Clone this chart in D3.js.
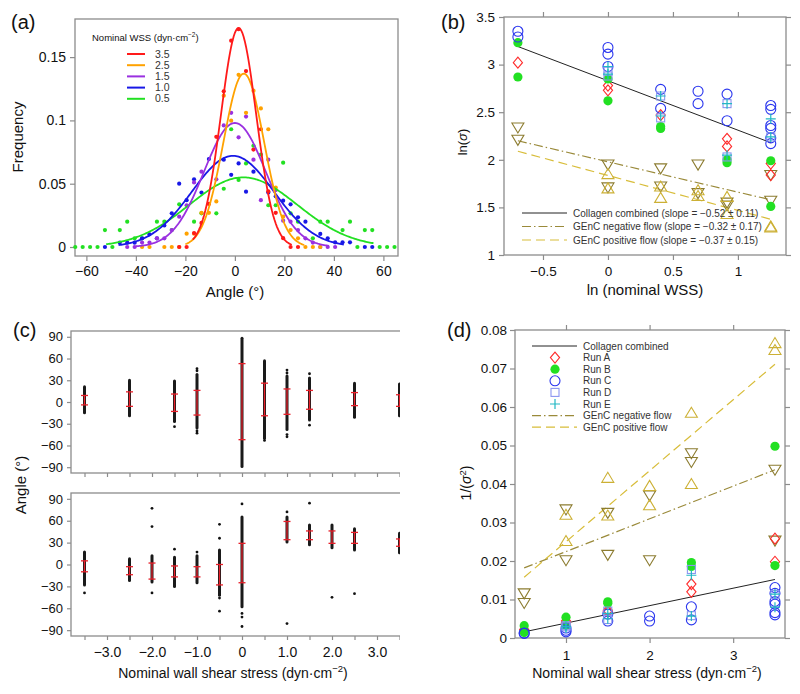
<!DOCTYPE html>
<html>
<head>
<meta charset="utf-8">
<script src="https://cdn.jsdelivr.net/npm/d3@7"></script>
<style>
body { margin: 0; background: #fff; }
svg { font-family: "Liberation Sans", Arial, Helvetica, sans-serif; }
</style>
</head>
<body>
<svg id="fig" width="800" height="694"></svg>
<script>
// ---------- panel (a): angle histograms, [angle bin centre (deg), frequency]
const wssA = ["3.5", "2.5", "1.5", "1.0", "0.5"]
const colA = ["#ff1a1a", "#ffa200", "#9a30e0", "#1818e6", "#22e022"]
const ptsRed = [[-22.5,0],[-19.5,0],[-16.5,0.011],[-13.5,0.019],[-10.5,0.034],[-7.5,0.087],[-4.5,0.123],[-1.5,0.163],[1.5,0.172],[4.5,0.139],[7.5,0.077],[10.5,0.093],[13.5,0.044],[16.5,0.027],[19.5,0.007],[22.5,0],[25.5,0]]
const ptsOrange = [[-37.5,0],[-34.5,0],[-28.5,0],[-25.5,0],[-22.5,0],[-19.5,0.0105],[-16.5,0.0105],[-13.5,0.027],[-10.5,0.027],[-7.5,0.036],[-4.5,0.1195],[-1.5,0.0998],[1.5,0.136],[4.5,0.106],[7.5,0.1235],[10.5,0.1095],[13.5,0.093],[16.5,0.047],[19.5,0.024],[22.5,0.0134],[25.5,0.0069],[28.5,0],[31.5,0],[34.5,0]]
const ptsPurple = [[-43.5,0],[-40.5,0],[-37.5,0.0035],[-34.5,0.0035],[-31.5,0.0069],[-28.5,0.0069],[-25.5,0.0134],[-22.5,0.024],[-19.5,0.033],[-16.5,0.051],[-13.5,0.0595],[-7.5,0.0535],[-4.5,0.096],[-1.5,0.106],[1.5,0.0866],[4.5,0.103],[7.5,0.069],[10.5,0.037],[13.5,0.069],[16.5,0.045],[19.5,0.0208],[22.5,0.020],[25.5,0.0134],[28.5,0.0069],[31.5,0.0035],[34.5,0],[37.5,0],[40.5,0]]
const ptsBlue = [[-52.5,0],[-46.5,0.0034],[-43.5,0.0034],[-40.5,0.0034],[-37.5,0.0069],[-34.5,0.0100],[-31.5,0.0069],[-28.5,0.017],[-25.5,0.0266],[-22.5,0.050],[-19.5,0.037],[-16.5,0.0535],[-13.5,0.043],[-10.5,0.0695],[-4.5,0.069],[-1.5,0.057],[1.5,0.066],[4.5,0.0437],[7.5,0.0595],[13.5,0.043],[16.5,0.040],[19.5,0.0366],[22.5,0.0337],[25.5,0.0235],[28.5,0.020],[34.5,0.0103],[37.5,0.0069],[40.5,0.0037],[43.5,0.0037],[46.5,0.0037],[52.5,0],[55.5,0]]
const ptsGreen = [[-64.5,0],[-61.5,0],[-58.5,0],[-55.5,0],[-52.5,0.0134],[-49.5,0],[-46.5,0.0134],[-43.5,0.020],[-40.5,0.0069],[-37.5,0.0069],[-31.5,0.020],[-28.5,0.020],[-25.5,0.0134],[-22.5,0.0337],[-16.5,0.020],[-13.5,0.0266],[-7.5,0.0266],[-4.5,0.046],[-1.5,0.093],[1.5,0.053],[4.5,0.066],[7.5,0.080],[10.5,0.073],[13.5,0.033],[16.5,0.033],[19.5,0.0666],[22.5,0.0266],[25.5,0.020],[31.5,0.0069],[34.5,0.020],[37.5,0.020],[43.5,0.0134],[46.5,0.020],[49.5,0],[52.5,0.0134],[55.5,0.0134],[58.5,0],[61.5,0],[64.5,0]]
// gaussian fits (same order as wssA)
const fitMu = [1.5, 3.6, 0, -0.8, 3.4]
const fitSd = [7.1, 8.2, 12.5, 16.6, 21.8]
const fitPeak = [0.173, 0.137, 0.098, 0.072, 0.055]
const fitFrom = [-17, -20, -40, -47, -52]
const fitTo = [23, 28, 38, 44, 56]
const ticksAx = [-60, -40, -20, 0, 20, 40, 60]
const ticksAy = [0, 0.05, 0.1, 0.15]
const labelsAy = ["0", "0.05", "0.1", "0.15"]

// ---------- panel (b): [nominal WSS, ln(sigma)]
const bRunA = [[0.5,3.02],[1,2.78],[1,2.73],[1.5,2.47],[2.5,2.22],[2.5,2.14],[3.5,1.96],[3.5,1.84]]
const bRunB = [[0.5,3.23],[0.5,2.87],[1,2.85],[1,2.62],[1.5,2.35],[1.5,2.33],[2.5,2.0],[2.5,1.97],[3.5,1.99],[3.5,1.51]]
const bRunC = [[0.5,3.35],[0.5,3.29],[1,3.18],[1,3.11],[1,2.98],[1.5,2.74],[1.5,2.54],[2,2.72],[2,2.59],[2.5,2.69],[2.5,2.41],[3.5,2.57],[3.5,2.53],[3.5,2.36],[3.5,2.33],[3.5,2.23],[3.5,2.17]]
const bRunD = [[1,2.93],[1,2.88],[1.5,2.67],[1.5,2.44],[2.5,2.59],[2.5,2.03],[3.5,2.24]]
const bRunE = [[1,2.98],[1,2.90],[1.5,2.67],[1.5,2.46],[2.5,2.59],[2.5,2.05],[3.5,2.43],[3.5,2.24]]
const bNeg = [[0.5,2.34],[0.5,2.21],[1,1.95],[1,1.71],[1.5,1.91],[1.5,1.72],[2,1.95],[2,1.65],[2.5,1.55],[2.5,1.52],[3.5,1.84],[3.5,1.57]]
const bPos = [[1,1.85],[1,1.70],[1.5,1.72],[1.5,1.60],[2,1.68],[2,1.62],[2.5,1.61],[2.5,1.43],[3.5,1.30],[3.5,1.29]]
const bFitColl = [[0.5,3.19],[3.5,2.18]]
const bFitNeg = [[0.5,2.20],[3.5,1.58]]
const bFitPos = [[0.5,2.09],[3.5,1.375]]
const ticksBx = [-0.5, 0, 0.5, 1]
const labelsBx = ["\u22120.5", "0", "0.5", "1"]
const ticksBy = [1, 1.5, 2, 2.5, 3, 3.5]
const labelsBy = ["1", "1.5", "2", "2.5", "3", "3.5"]
const legendB = ["Collagen combined (slope = \u22120.52 \u00b1 0.11)", "GEnC negative flow (slope = \u22120.32 \u00b1 0.17)", "GEnC positive flow (slope = \u22120.37 \u00b1 0.15)"]

// ---------- panel (c): per column [WSS, dense low, dense high, bar low, bar high, outliers]
const cTop = [
  [-3.5, -15, 21, -4, 9, []],
  [-2.5, -19, 30, -6, 14, []],
  [-1.5, -27, 29, -13, 11, [-34]],
  [-1, -36, 38, -18, 16, [46, 43, -40, -43]],
  [0, -89, 88, -52, 53, []],
  [0.5, -50, 57, -19, 26, [-53]],
  [1, -38, 36, -17, 18, [44, 40, -45, -48]],
  [1.5, -25, 33, -10, 16, [39, -32]],
  [2.5, -21, 26, -5, 13, []],
  [3.5, -19, 25, -6, 10, []]
]
const cBottom = [
  [-3.5, -28, 17, -10, 5, [-39]],
  [-2.5, -22, 8, -14, -3, []],
  [-2, -24, 12, -20, 2, [77, 52, -39]],
  [-1.5, -30, 10, -17, -2, [21]],
  [-1, -25, 12, -17, -3, [17]],
  [-0.5, -42, 20, -28, 0, [55, 36, -46, -64]],
  [0, -58, 65, -25, 29, [83, -67, -72, -85]],
  [1, 31, 65, 34, 59, [72, -81]],
  [1.5, 27, 54, 34, 46, [84]],
  [2, 23, 54, 29, 46, [-45]],
  [2.5, 20, 49, 29, 44, [-40]],
  [3.5, 16, 43, 25, 35, []]
]
const ticksCx = [-3.5, -3, -2.5, -2, -1.5, -1, -0.5, 0, 0.5, 1, 1.5, 2, 2.5, 3, 3.5]
const labelsCx = {"-3": "\u22123.0", "-2": "\u22122.0", "-1": "\u22121.0", "0": "0", "1": "1.0", "2": "2.0", "3": "3.0"}
const ticksCy = [-90, -60, -30, 0, 30, 60, 90]

// ---------- panel (d): [nominal WSS, 1/sigma^2]
const dRunA = [[0.5,0.0022],[1,0.0040],[1,0.0044],[1.5,0.0072],[1.5,0.0068],[2.5,0.0140],[2.5,0.0120],[3.5,0.0258],[3.5,0.0198]]
const dRunB = [[0.5,0.0032],[0.5,0.0014],[1,0.0054],[1,0.0033],[1.5,0.0094],[1.5,0.0090],[2.5,0.0196],[2.5,0.0186],[3.5,0.0498],[3.5,0.0188]]
const dRunC = [[0.5,0.0013],[0.5,0.0012],[1,0.0026],[1,0.0020],[1,0.0016],[1.5,0.0062],[1.5,0.0044],[2,0.0057],[2,0.0044],[2.5,0.0081],[2.5,0.0047],[3.5,0.0131],[3.5,0.0116],[3.5,0.0095],[3.5,0.0088],[3.5,0.0066],[3.5,0.0060]]
const dRunD = [[1,0.0029],[1,0.0032],[1.5,0.0048],[1.5,0.0070],[2.5,0.0178],[2.5,0.0058],[3.5,0.0113]]
const dRunE = [[1,0.0026],[1,0.0030],[1.5,0.0050],[1.5,0.0064],[2.5,0.0163],[2.5,0.0057],[3.5,0.0080],[3.5,0.0114]]
const dNeg = [[0.5,0.0116],[0.5,0.0091],[1,0.0334],[1,0.0202],[1.5,0.0325],[1.5,0.0216],[2,0.0370],[2,0.0202],[2.5,0.0480],[2.5,0.0457],[3.5,0.0437],[3.5,0.0253]]
const dPos = [[1,0.0320],[1,0.0252],[1.5,0.0416],[1.5,0.0318],[2,0.0395],[2,0.0345],[2.5,0.0585],[2.5,0.0400],[3.5,0.0766],[3.5,0.0748]]
const dFitColl = [[0.5,0.0016],[3.5,0.0152]]
const dFitNeg = [[0.5,0.0182],[3.5,0.0437]]
const dFitPos = [[0.5,0.0158],[3.5,0.0711]]
const ticksDx = [1, 2, 3]
const ticksDy = [0, 0.01, 0.02, 0.03, 0.04, 0.05, 0.06, 0.07, 0.08]
const labelsDy = ["0", "0.01", "0.02", "0.03", "0.04", "0.05", "0.06", "0.07", "0.08"]
const legendD = ["Collagen combined", "Run A", "Run B", "Run C", "Run D", "Run E", "GEnC negative flow", "GEnC positive flow"]

// ---------- drawing
const svg = d3.select("#fig")
const FONT = "'Liberation Sans', Arial, Helvetica, sans-serif"
const grey = "#8c8c8c"
const cRed = "#ff2a2a", cGreen = "#22e022", cBlue = "#2a36ee", cSq = "#8a96f0", cPlus = "#22b8c4"
const cNeg = "#8c7c30", cPos = "#ccb034"
const dashDot = "9,3,1.5,3", dashed = "9,5"

function frame(g, x0, y0, x1, y1) {
  g.append("rect").attr("x", x0).attr("y", y0).attr("width", x1 - x0).attr("height", y1 - y0)
    .attr("fill", "none").attr("stroke", grey).attr("stroke-width", 1.3)
}
function styleAxis(g, fs) {
  g.select(".domain").remove()
  g.selectAll(".tick line").attr("stroke", grey).attr("stroke-width", 1.2)
  g.selectAll(".tick text").attr("font-size", fs).attr("fill", "#111").attr("font-family", FONT)
  g.attr("font-family", FONT)
}
function addText(g, x, y, txt, fs, anchor, rot) {
  const t = g.append("text").attr("x", x).attr("y", y).attr("font-size", fs)
    .attr("text-anchor", anchor || "start").attr("fill", "#111").text(txt)
  if (rot) t.attr("transform", "rotate(-90," + x + "," + y + ")")
  return t
}
function withSup(t, before, sup, after, fs) {
  t.text(null)
  t.append("tspan").text(before)
  t.append("tspan").attr("dy", -fs * 0.42).attr("font-size", fs * 0.68).text(sup)
  t.append("tspan").attr("dy", fs * 0.42).text(after)
}
// marker shapes used in (b) and (d)
function mark(g, type, x, y) {
  if (type === "A") g.append("path").attr("d", `M${x},${y-5.5}L${x+4.6},${y}L${x},${y+5.5}L${x-4.6},${y}Z`).attr("fill", "none").attr("stroke", cRed).attr("stroke-width", 1.1)
  if (type === "B") g.append("circle").attr("cx", x).attr("cy", y).attr("r", 4.6).attr("fill", cGreen)
  if (type === "C") g.append("circle").attr("cx", x).attr("cy", y).attr("r", 5).attr("fill", "none").attr("stroke", cBlue).attr("stroke-width", 1.1)
  if (type === "D") g.append("rect").attr("x", x - 4).attr("y", y - 4).attr("width", 8).attr("height", 8).attr("fill", "none").attr("stroke", cSq).attr("stroke-width", 1.1)
  if (type === "E") g.append("path").attr("d", `M${x-5},${y}H${x+5}M${x},${y-5}V${y+5}`).attr("stroke", cPlus).attr("stroke-width", 1.2)
  if (type === "N") g.append("path").attr("d", `M${x-6},${y-4.5}L${x+6},${y-4.5}L${x},${y+5.5}Z`).attr("fill", "none").attr("stroke", cNeg).attr("stroke-width", 1.1)
  if (type === "P") g.append("path").attr("d", `M${x-6},${y+4.5}L${x+6},${y+4.5}L${x},${y-5.5}Z`).attr("fill", "none").attr("stroke", cPos).attr("stroke-width", 1.1)
}

// ===== (a)
const gA = svg.append("g")
const xA = d3.scaleLinear().domain([-64.6, 65.9]).range([75, 398])
const yA = d3.scaleLinear().domain([-0.0071, 0.1801]).range([256, 19])
frame(gA, 75, 19, 398, 256)
gA.append("g").attr("transform", "translate(0,256)")
  .call(d3.axisBottom(xA).tickValues(ticksAx).tickSize(5).tickPadding(5).tickFormat(d3.format("d")))
  .call(g => styleAxis(g, 14))
gA.append("g").attr("transform", "translate(75,0)")
  .call(d3.axisLeft(yA).tickValues(ticksAy).tickSize(5).tickPadding(4).tickFormat((d, i) => labelsAy[i]))
  .call(g => styleAxis(g, 14))
const seriesA = [ptsRed, ptsOrange, ptsPurple, ptsBlue, ptsGreen]
for (let i = seriesA.length - 1; i >= 0; i--) {
  gA.append("g").selectAll("circle").data(seriesA[i]).join("circle")
    .attr("cx", d => xA(d[0])).attr("cy", d => yA(d[1])).attr("r", 2.1).attr("fill", colA[i])
}
for (let i = seriesA.length - 1; i >= 0; i--) {
  const xs = d3.range(fitFrom[i], fitTo[i] + 0.01, 0.5)
  const line = d3.line().x(a => xA(a)).y(a => yA(fitPeak[i] * Math.exp(-Math.pow(a - fitMu[i], 2) / (2 * fitSd[i] * fitSd[i]))))
  gA.append("path").attr("d", line(xs)).attr("fill", "none").attr("stroke", colA[i]).attr("stroke-width", 1.8)
}
withSup(addText(gA, 92, 41, "", 9.5), "Nominal WSS (dyn\u00b7cm", "\u22122", ")", 9.5)
wssA.forEach((w, i) => {
  const y = 54 + i * 11.2
  gA.append("line").attr("x1", 127).attr("x2", 145).attr("y1", y).attr("y2", y).attr("stroke", colA[i]).attr("stroke-width", 2)
  addText(gA, 155, y + 3.6, w, 10.5).attr("fill", "#333")
})
addText(gA, 235, 297, "Angle (\u00b0)", 15, "middle")
addText(gA, 23, 137, "Frequency", 15, "middle", true)
addText(gA, 11, 29, "(a)", 20)

// ===== (b)
const gB = svg.append("g")
const xB = d3.scaleLinear().domain([-0.8, 1.37]).range([504, 786])
const yB = d3.scaleLinear().domain([1, 3.5]).range([255, 17])
frame(gB, 504, 17, 786, 255)
gB.append("g").attr("transform", "translate(0,255)")
  .call(d3.axisBottom(xB).tickValues(ticksBx).tickSize(5).tickPadding(6).tickFormat((d, i) => labelsBx[i]))
  .call(g => styleAxis(g, 13.5))
gB.append("g").attr("transform", "translate(0,17)")
  .call(d3.axisTop(xB).tickValues(ticksBx).tickSize(5).tickFormat(""))
  .call(g => styleAxis(g, 13.5))
gB.append("g").attr("transform", "translate(504,0)")
  .call(d3.axisLeft(yB).tickValues(ticksBy).tickSize(5).tickPadding(4).tickFormat((d, i) => labelsBy[i]))
  .call(g => styleAxis(g, 13.5))
gB.append("g").attr("transform", "translate(786,0)")
  .call(d3.axisRight(yB).tickValues(ticksBy).tickSize(5).tickFormat(""))
  .call(g => styleAxis(g, 13.5))
const lnB = d => xB(Math.log(d[0]))
const lineB = d3.line().x(lnB).y(d => yB(d[1]))
gB.append("path").attr("d", lineB(bFitColl)).attr("stroke", "#222").attr("stroke-width", 1).attr("fill", "none")
gB.append("path").attr("d", lineB(bFitNeg)).attr("stroke", "#9a8a3a").attr("stroke-width", 1.2).attr("stroke-dasharray", dashDot).attr("fill", "none")
gB.append("path").attr("d", lineB(bFitPos)).attr("stroke", "#d8bd3a").attr("stroke-width", 1.2).attr("stroke-dasharray", dashed).attr("fill", "none")
const setsB = [[bNeg, "N"], [bPos, "P"], [bRunA, "A"], [bRunB, "B"], [bRunC, "C"], [bRunD, "D"], [bRunE, "E"]]
setsB.forEach(([pts, t]) => pts.forEach(d => mark(gB, t, lnB(d), yB(d[1]))))
const legStyleB = [["#222", null, 1], ["#9a8a3a", dashDot, 1.2], ["#d8bd3a", dashed, 1.2]]
legendB.forEach((txt, i) => {
  const y = 213 + i * 13.5
  gB.append("line").attr("x1", 522).attr("x2", 567).attr("y1", y).attr("y2", y)
    .attr("stroke", legStyleB[i][0]).attr("stroke-width", legStyleB[i][2]).attr("stroke-dasharray", legStyleB[i][1])
  addText(gB, 573, y + 3.5, txt, 10).attr("fill", "#333")
})
addText(gB, 645, 295, "ln (nominal WSS)", 15, "middle")
const lbB = addText(gB, 467, 142, "", 13, "middle", true)
lbB.append("tspan").text("ln(")
lbB.append("tspan").attr("font-style", "italic").text("\u03c3")
lbB.append("tspan").text(")")
addText(gB, 441, 29, "(b)", 20)

// ===== (c)
svg.append("clipPath").attr("id", "clipC").append("rect").attr("x", 0).attr("y", 300).attr("width", 400).attr("height", 394)
const gC = svg.append("g").attr("clip-path", "url(#clipC)")
const xC = d3.scaleLinear().domain([-3.8, 3.8]).range([71, 413])
const subC = [[cTop, 331, 473, false], [cBottom, 493, 636, true]]
subC.forEach(([cols, top, bot, labelled]) => {
  const yC = d3.scaleLinear().domain([-98, 98]).range([bot, top])
  frame(gC, 71, top, 413, bot)
  gC.append("g").attr("transform", "translate(71,0)")
    .call(d3.axisLeft(yC).tickValues(ticksCy).tickSize(4).tickPadding(4).tickFormat(d3.format("d")))
    .call(g => styleAxis(g, 13))
  gC.append("g").attr("transform", "translate(0," + bot + ")")
    .call(d3.axisBottom(xC).tickValues(ticksCx).tickSize(4).tickPadding(7)
      .tickFormat(d => labelled && labelsCx[String(d)] !== undefined ? labelsCx[String(d)] : ""))
    .call(g => styleAxis(g, 14))
  const cg = gC.append("g")
  cols.forEach(c => {
    const x = xC(c[0])
    cg.append("line").attr("x1", x).attr("x2", x).attr("y1", yC(c[1])).attr("y2", yC(c[2]))
      .attr("stroke", "#1a1a1a").attr("stroke-width", 3).attr("stroke-linecap", "round")
    c[5].forEach(o => cg.append("circle").attr("cx", x).attr("cy", yC(o)).attr("r", 1.4).attr("fill", "#111"))
    cg.append("line").attr("x1", x).attr("x2", x).attr("y1", yC(c[3])).attr("y2", yC(c[4]))
      .attr("stroke", "#e8202a").attr("stroke-width", 1.3)
    ;[c[3], c[4]].forEach(v => cg.append("line").attr("x1", x - 3.5).attr("x2", x + 3.5).attr("y1", yC(v)).attr("y2", yC(v))
      .attr("stroke", "#e8202a").attr("stroke-width", 1.3))
  })
})
withSup(addText(svg, 233, 678, "", 14, "middle"), "Nominal wall shear stress (dyn\u00b7cm", "\u22122", ")", 14)
addText(svg, 26, 485, "Angle (\u00b0)", 15, "middle", true)
addText(svg, 13, 337, "(c)", 20)

// ===== (d)
const gD = svg.append("g")
const xD = d3.scaleLinear().domain([0.39, 3.62]).range([515, 785])
const yD = d3.scaleLinear().domain([0, 0.08]).range([638, 330])
frame(gD, 515, 330, 785, 638)
gD.append("g").attr("transform", "translate(0,638)")
  .call(d3.axisBottom(xD).tickValues(ticksDx).tickSize(5).tickPadding(7).tickFormat(d3.format("d")))
  .call(g => styleAxis(g, 13.5))
gD.append("g").attr("transform", "translate(0,330)")
  .call(d3.axisTop(xD).tickValues(ticksDx).tickSize(5).tickFormat(""))
  .call(g => styleAxis(g, 13.5))
gD.append("g").attr("transform", "translate(515,0)")
  .call(d3.axisLeft(yD).tickValues(ticksDy).tickSize(5).tickPadding(3).tickFormat((d, i) => labelsDy[i]))
  .call(g => styleAxis(g, 13.5))
gD.append("g").attr("transform", "translate(785,0)")
  .call(d3.axisRight(yD).tickValues(ticksDy).tickSize(5).tickFormat(""))
  .call(g => styleAxis(g, 13.5))
const lineD = d3.line().x(d => xD(d[0])).y(d => yD(d[1]))
gD.append("path").attr("d", lineD(dFitColl)).attr("stroke", "#222").attr("stroke-width", 1).attr("fill", "none")
gD.append("path").attr("d", lineD(dFitNeg)).attr("stroke", "#9a8a3a").attr("stroke-width", 1.2).attr("stroke-dasharray", dashDot).attr("fill", "none")
gD.append("path").attr("d", lineD(dFitPos)).attr("stroke", "#d8bd3a").attr("stroke-width", 1.2).attr("stroke-dasharray", dashed).attr("fill", "none")
const setsD = [[dNeg, "N"], [dPos, "P"], [dRunA, "A"], [dRunB, "B"], [dRunC, "C"], [dRunD, "D"], [dRunE, "E"]]
setsD.forEach(([pts, t]) => pts.forEach(d => mark(gD, t, xD(d[0]), yD(d[1]))))
const legKindD = ["line", "A", "B", "C", "D", "E", "neg", "pos"]
legendD.forEach((txt, i) => {
  const y = 346 + i * 11.6
  const k = legKindD[i]
  if (k === "line" || k === "neg" || k === "pos") {
    const st = k === "line" ? ["#222", null, 1] : k === "neg" ? ["#9a8a3a", dashDot, 1.2] : ["#d8bd3a", dashed, 1.2]
    gD.append("line").attr("x1", 532).attr("x2", 577).attr("y1", y).attr("y2", y)
      .attr("stroke", st[0]).attr("stroke-width", st[2]).attr("stroke-dasharray", st[1])
  } else {
    mark(gD, k, 555, y)
  }
  addText(gD, 583, y + 3.5, txt, 10).attr("fill", "#333")
})
withSup(addText(gD, 647, 678, "", 14, "middle"), "Nominal wall shear stress (dyn\u00b7cm", "\u22122", ")", 14)
const lbD = addText(gD, 471, 483, "", 14, "middle", true)
lbD.append("tspan").text("1/(")
lbD.append("tspan").attr("font-style", "italic").text("\u03c3")
lbD.append("tspan").attr("dy", -5).attr("font-size", 9.5).text("2")
lbD.append("tspan").attr("dy", 5).text(")")
addText(gD, 447, 337, "(d)", 20)
</script>
</body>
</html>
